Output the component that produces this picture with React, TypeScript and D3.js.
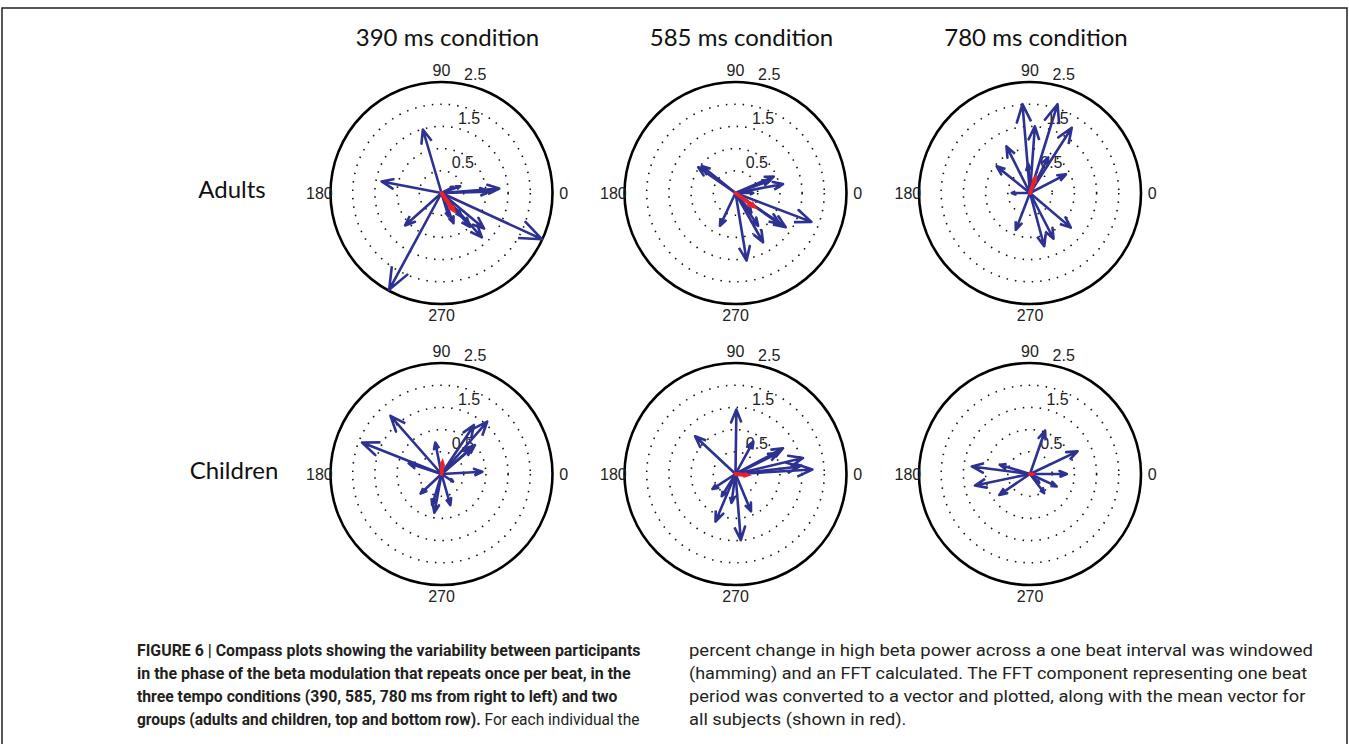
import React, { useEffect, useRef } from "react";
import * as d3 from "d3";

// column titles and row labels
const conditions = ["390 ms condition", "585 ms condition", "780 ms condition"];
const groups = ["Adults", "Children"];

// polar axis ticks
const angleTicks = [0, 90, 180, 270];
const ringTicks = [0.5, 1, 1.5, 2];
const ringLabels = [0.5, 1.5, 2.5];
const rMax = 2.5;

// one vector per subject, real (x) and imaginary (y) part
const adults390X = [-0.42, -1.35, 1.3, 1.09, 0.42, 2.26, -0.82, -1.18, 0.91, 0.96, 0.64, 0.27, 0.16, 0.45, 0.27];
const adults390Y = [1.43, 0.26, 0.1, 0.03, 0.15, -1.04, -0.73, -2.18, -1.0, -0.8, -0.76, -0.68, -0.53, -0.53, 0.14];
const adults585X = [-0.84, -0.76, 0.86, 1.07, 0.78, 1.71, 1.13, 1.0, 0.62, 0.51, 0.25, -0.35, 0.36, 0.4];
const adults585Y = [0.58, 0.61, 0.37, 0.2, 0.28, -0.65, -0.77, -0.7, -1.11, -0.74, -1.52, -0.74, -0.44, 0.0];
const adults780X = [-0.17, 0.62, 0.94, 0.11, -0.53, -0.75, 0.81, -0.41, -0.04, 0.41, -0.32, 0.32, 0.53, 0.92];
const adults780Y = [2.0, 2.0, 1.47, 1.5, 1.05, 0.6, 0.42, 0.0, 0.65, 0.8, -0.83, -1.2, -1.03, -0.78];
const children390X = [-1.79, -1.15, -0.74, -0.14, 1.03, 0.73, 0.75, 0.68, 0.92, -0.47, -0.16, 0.2, -0.21, 0.26];
const children390Y = [0.71, 1.31, 0.24, 0.71, 1.18, 1.1, 0.65, 0.58, 0.05, -0.44, -0.87, -0.7, -0.7, -0.17];
const children585X = [0.02, -0.91, 0.4, 1.07, 0.96, 1.52, 1.73, 1.45, -0.52, -0.45, 0.12, 0.35, -0.09, -0.31];
const children585Y = [1.45, 0.85, 0.73, 0.58, 0.47, 0.36, 0.1, 0.17, -0.34, -1.07, -1.49, -0.84, -0.65, -0.5];
const children780X = [0.34, 1.07, 0.83, 0.6, 0.32, -1.31, -0.68, -1.24, -0.69, 0.21];
const children780Y = [0.98, 0.51, 0.0, -0.28, -0.43, 0.17, 0.21, -0.26, -0.47, -0.2];

// mean vector per panel (adults 390, 585, 780, children 390, 585, 780)
const meanX = [0.27, 0.41, 0.11, 0.02, 0.25, 0.03];
const meanY = [-0.38, -0.3, 0.32, 0.24, -0.02, 0.0];

const captionLeft = [
  [["FIGURE 6 | Compass plots showing the variability between participants", true]],
  [["in the phase of the beta modulation that repeats once per beat, in the", true]],
  [["three tempo conditions (390, 585, 780 ms from right to left) and two", true]],
  [["groups (adults and children, top and bottom row).", true], [" For each individual the", false]],
];
const captionRight = [
  [["percent change in high beta power across a one beat interval was windowed", false]],
  [["(hamming) and an FFT calculated. The FFT component representing one beat", false]],
  [["period was converted to a vector and plotted, along with the mean vector for", false]],
  [["all subjects (shown in red).", false]],
];

const W = 1349;
const H = 744;
const centersX = [441.5, 735.5, 1030];
const centersY = [193, 474];
const R = 111;
const blue = "#2d3192";
const red = "#e8212b";

const App = () => {
  const ref = useRef<SVGSVGElement>(null);

  useEffect(() => {
    const svg = d3.select(ref.current);
    svg.selectAll("*").remove();

    svg.append("rect").attr("width", W).attr("height", H).attr("fill", "#fff");
    // figure frame (open at the bottom)
    svg
      .append("path")
      .attr("d", `M2,${H} V8 H1347 V${H}`)
      .attr("fill", "none")
      .attr("stroke", "#222")
      .attr("stroke-width", 1.5);

    const r = d3.scaleLinear().domain([0, rMax]).range([0, R]);
    const arrowLine = d3
      .line<number[]>()
      .x((d) => r(d[0]))
      .y((d) => -r(d[1]));
    // same shape as matlab's compass arrow
    const arrow = (u: number, v: number) =>
      [
        [0, 0],
        [1, 0],
        [0.8, 0.08],
        [1, 0],
        [0.8, -0.08],
      ].map(([a, b]) => [a * u - b * v, a * v + b * u]);

    conditions.forEach((c, i) => {
      svg
        .append("text")
        .attr("x", centersX[i] + 6)
        .attr("y", 46)
        .attr("text-anchor", "middle")
        .style("font-family", "Lato")
        .style("font-size", "24px")
        .attr("fill", "#111")
        .text(c);
    });

    groups.forEach((g, j) => {
      svg
        .append("text")
        .attr("x", j === 0 ? 232 : 234)
        .attr("y", centersY[j] + 5)
        .attr("text-anchor", "middle")
        .style("font-family", "Lato")
        .style("font-size", "24px")
        .attr("fill", "#111")
        .text(g);
    });

    const panelX = [adults390X, adults585X, adults780X, children390X, children585X, children780X];
    const panelY = [adults390Y, adults585Y, adults780Y, children390Y, children585Y, children780Y];

    panelX.forEach((xs, p) => {
      const g = svg
        .append("g")
        .attr("transform", `translate(${centersX[p % 3]},${centersY[Math.floor(p / 3)]})`);

      g.selectAll(".ring")
        .data(ringTicks)
        .enter()
        .append("circle")
        .attr("r", (d) => r(d))
        .attr("fill", "none")
        .attr("stroke", "#111")
        .attr("stroke-width", 1.6)
        .attr("stroke-dasharray", "1.5 7");

      g.append("circle")
        .attr("r", r(rMax))
        .attr("fill", "none")
        .attr("stroke", "#000")
        .attr("stroke-width", 2.6);

      g.selectAll(".ang")
        .data(angleTicks)
        .enter()
        .append("text")
        .attr("x", (d) => 1.1 * R * Math.cos((d * Math.PI) / 180))
        .attr("y", (d) => -1.1 * R * Math.sin((d * Math.PI) / 180))
        .attr("text-anchor", "middle")
        .attr("dominant-baseline", "central")
        .style("font-family", "Liberation Sans")
        .style("font-size", "16px")
        .attr("fill", "#222")
        .text((d) => d);

      const a82 = (82 * Math.PI) / 180;
      g.selectAll(".rl")
        .data(ringLabels)
        .enter()
        .append("text")
        .attr("x", (d) => r(d + 0.025) * Math.cos(a82) + 7)
        .attr("y", (d) => -r(d + 0.025) * Math.sin(a82) - 2)
        .style("font-family", "Liberation Sans")
        .style("font-size", "16px")
        .attr("fill", "#222")
        .text((d) => d);

      const ys = panelY[p];
      g.selectAll(".vec")
        .data(xs.map((x, k) => [x, ys[k]]))
        .enter()
        .append("path")
        .attr("d", (d) => arrowLine(arrow(d[0], d[1])))
        .attr("fill", "none")
        .attr("stroke", blue)
        .attr("stroke-width", 2.6)
        .attr("stroke-linejoin", "round");

      g.append("path")
        .attr("d", arrowLine(arrow(meanX[p], meanY[p])))
        .attr("fill", "none")
        .attr("stroke", red)
        .attr("stroke-width", 4)
        .attr("stroke-linecap", "round");
    });

    // caption, condensed to the measured line widths
    const drawColumn = (lines, x0: number, ends: (number | null)[]) => {
      const ks: number[] = [];
      const nodes = lines.map((parts, i) => {
        const t = svg
          .append("text")
          .style("font-family", "Roboto")
          .style("font-size", "17px")
          .attr("fill", "#231f20");
        parts.forEach(([s, b]) => {
          t.append("tspan")
            .attr("font-weight", b ? 700 : 400)
            .text(s);
        });
        const w = (t.node() as SVGTextElement).getComputedTextLength();
        if (ends[i] != null) ks.push((ends[i] - x0) / w);
        return t;
      });
      const kAvg = d3.mean(ks);
      nodes.forEach((t, i) => {
        const w = (t.node() as SVGTextElement).getComputedTextLength();
        const k = ends[i] != null ? (ends[i] - x0) / w : kAvg;
        t.attr("transform", `translate(${x0},${656 + i * 23}) scale(${k},1)`);
      });
    };
    drawColumn(captionLeft, 137, [641, 631, 618, 640]);
    drawColumn(captionRight, 689, [1313, 1308, 1306, null]);
  }, []);

  return (
    <svg
      ref={ref}
      width={W}
      height={H}
      style={{ position: "absolute", left: 0, top: 0 }}
    />
  );
};

export default App;
